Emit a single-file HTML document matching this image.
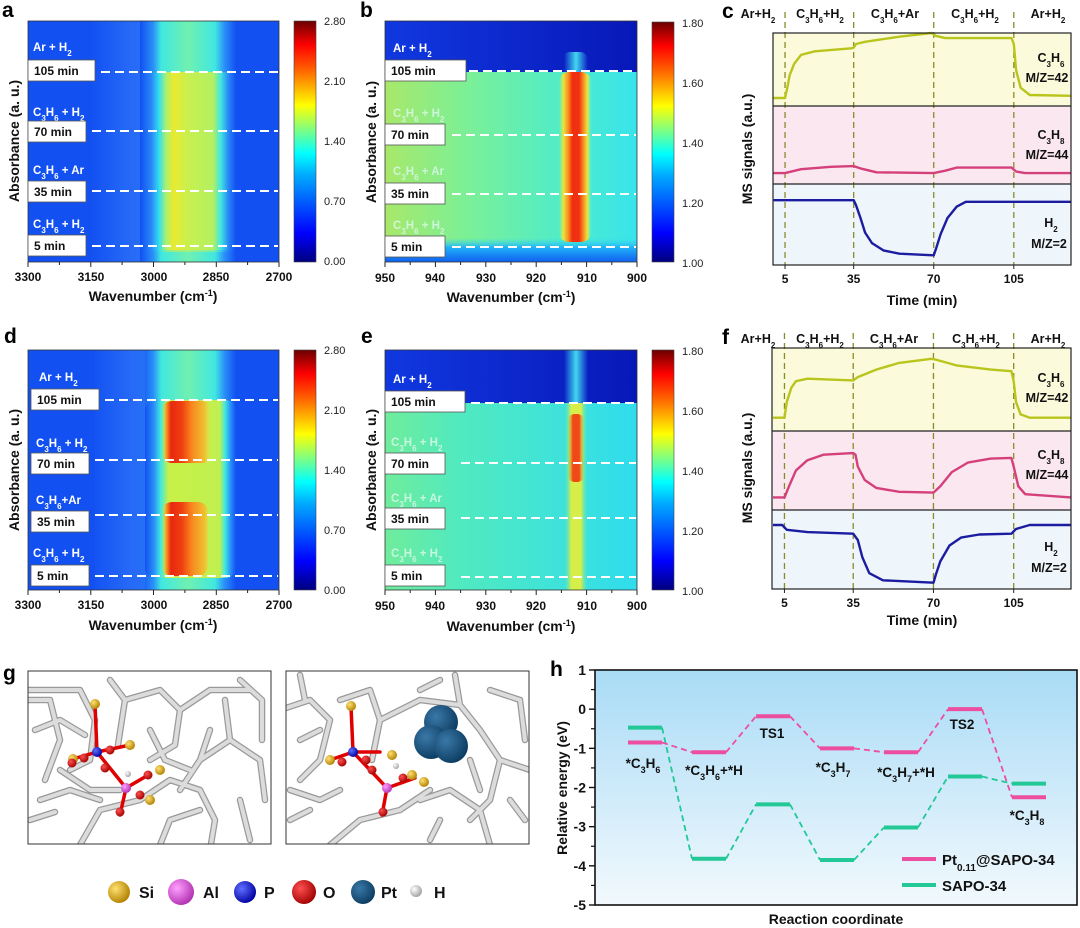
<!DOCTYPE html>
<html><head><meta charset="utf-8"><style>
html,body{margin:0;padding:0;background:#fff;}
svg{display:block;font-family:"Liberation Sans",Arial,sans-serif;}
.tk{font-size:12px;font-weight:bold;fill:#111;}
.ax{font-size:14px;font-weight:bold;fill:#111;}
.pl{font-size:21px;font-weight:bold;fill:#000;}
.hl{font-size:11.5px;font-weight:bold;fill:#fff;}
.hf{font-size:11.5px;font-weight:bold;fill:#d8f8e8;opacity:.85;}
.bx{font-size:12px;font-weight:bold;fill:#111;}
.cl{font-size:11px;fill:#222;}
.ms{font-size:12.5px;font-weight:bold;fill:#111;}
.sp{font-size:12.5px;font-weight:bold;fill:#111;}
</style></head><body>
<svg id="fig" width="1080" height="928" viewBox="0 0 1080 928">
<defs>
<linearGradient id="jet" x1="0" y1="1" x2="0" y2="0">
<stop offset="0" stop-color="#00007f"/><stop offset=".12" stop-color="#0000ff"/><stop offset=".36" stop-color="#00aaff"/><stop offset=".45" stop-color="#00ffff"/><stop offset=".55" stop-color="#80ff80"/><stop offset=".65" stop-color="#ffff00"/><stop offset=".8" stop-color="#ff6000"/><stop offset=".9" stop-color="#ff0000"/><stop offset="1" stop-color="#6a0000"/>
</linearGradient>
<linearGradient id="bmid" x1="0" y1="0" x2="1" y2="0"><stop offset="0" stop-color="#a8e86a"/><stop offset=".35" stop-color="#78f09a"/><stop offset=".7" stop-color="#50ecc8"/><stop offset="1" stop-color="#38e4ec"/></linearGradient>
<linearGradient id="emid" x1="0" y1="0" x2="1" y2="0"><stop offset="0" stop-color="#70ec9c"/><stop offset=".3" stop-color="#50eac0"/><stop offset="1" stop-color="#30dcee"/></linearGradient>
<linearGradient id="btop" x1="0" y1="0" x2="1" y2="0"><stop offset="0" stop-color="#1038e0"/><stop offset="1" stop-color="#0818b8"/></linearGradient>
<linearGradient id="bbot" x1="0" y1="0" x2="0" y2="1"><stop offset="0" stop-color="#38d8f0" stop-opacity="0"/><stop offset=".4" stop-color="#20b0f8"/><stop offset="1" stop-color="#1060f0"/></linearGradient>
<linearGradient id="vfadeTop" x1="0" y1="0" x2="0" y2="1"><stop offset="0" stop-color="#1038e0" stop-opacity="0"/><stop offset="1" stop-color="#1038e0" stop-opacity="0"/></linearGradient>
<!-- panel a band -->
<linearGradient id="aBand" gradientUnits="userSpaceOnUse" x1="140" y1="0" x2="236" y2="0">
<stop offset="0" stop-color="#1250f2"/><stop offset=".12" stop-color="#2a88f8"/><stop offset=".2" stop-color="#30e0f0"/><stop offset=".27" stop-color="#a8f070"/><stop offset=".35" stop-color="#eaea30"/><stop offset=".5" stop-color="#c8f050"/><stop offset=".76" stop-color="#b4f060"/><stop offset=".84" stop-color="#40e8e0"/><stop offset=".92" stop-color="#2a88f8"/><stop offset="1" stop-color="#1250f2"/></linearGradient>
<linearGradient id="aTop" gradientUnits="userSpaceOnUse" x1="140" y1="0" x2="236" y2="0">
<stop offset="0" stop-color="#1250f2"/><stop offset=".14" stop-color="#2a90f8"/><stop offset=".22" stop-color="#40e8e0"/><stop offset=".5" stop-color="#70f0b0"/><stop offset=".78" stop-color="#40e8e0"/><stop offset=".88" stop-color="#2a90f8"/><stop offset="1" stop-color="#1250f2"/></linearGradient>
<linearGradient id="aLight" gradientUnits="userSpaceOnUse" x1="90" y1="0" x2="165" y2="0">
<stop offset="0" stop-color="#1250f2"/><stop offset=".5" stop-color="#2568f6"/><stop offset="1" stop-color="#2a78f8"/></linearGradient>
<!-- panel b band -->
<linearGradient id="bBand" gradientUnits="userSpaceOnUse" x1="558" y1="0" x2="592" y2="0">
<stop offset="0" stop-color="#60f0b0" stop-opacity="0"/><stop offset=".15" stop-color="#e8e840"/><stop offset=".3" stop-color="#f89020"/><stop offset=".42" stop-color="#f03010"/><stop offset=".62" stop-color="#f03010"/><stop offset=".75" stop-color="#f89020"/><stop offset=".87" stop-color="#e8e840"/><stop offset="1" stop-color="#60f0d0" stop-opacity="0"/></linearGradient>
<!-- panel d band -->
<linearGradient id="dBand" gradientUnits="userSpaceOnUse" x1="145" y1="0" x2="236" y2="0">
<stop offset="0" stop-color="#1250f2"/><stop offset=".1" stop-color="#2a90f8"/><stop offset=".17" stop-color="#40e8e0"/><stop offset=".26" stop-color="#c8f048"/><stop offset=".82" stop-color="#c0f050"/><stop offset=".88" stop-color="#40e8e0"/><stop offset=".94" stop-color="#2a90f8"/><stop offset="1" stop-color="#1250f2"/></linearGradient>
<linearGradient id="dRed" gradientUnits="userSpaceOnUse" x1="162" y1="0" x2="212" y2="0">
<stop offset="0" stop-color="#e8e840" stop-opacity="0"/><stop offset=".08" stop-color="#f8a020"/><stop offset=".18" stop-color="#e82810"/><stop offset=".4" stop-color="#f04010"/><stop offset=".6" stop-color="#f88820"/><stop offset=".85" stop-color="#f0c030"/><stop offset="1" stop-color="#e8e840" stop-opacity="0"/></linearGradient>
<!-- panel e band -->
<linearGradient id="eBand" gradientUnits="userSpaceOnUse" x1="564" y1="0" x2="588" y2="0">
<stop offset="0" stop-color="#50e8c0" stop-opacity="0"/><stop offset=".3" stop-color="#d8ee48"/><stop offset=".7" stop-color="#d8ee48"/><stop offset="1" stop-color="#50e8c0" stop-opacity="0"/></linearGradient>
<linearGradient id="eRed" gradientUnits="userSpaceOnUse" x1="568" y1="0" x2="584" y2="0">
<stop offset="0" stop-color="#f8a020" stop-opacity="0"/><stop offset=".3" stop-color="#f04818"/><stop offset=".7" stop-color="#f04818"/><stop offset="1" stop-color="#f8a020" stop-opacity="0"/></linearGradient>
<linearGradient id="eTopBand" gradientUnits="userSpaceOnUse" x1="564" y1="0" x2="588" y2="0">
<stop offset="0" stop-color="#40d0f0" stop-opacity="0"/><stop offset=".5" stop-color="#40d8f0"/><stop offset="1" stop-color="#40d0f0" stop-opacity="0"/></linearGradient>
<linearGradient id="hbg" x1="0" y1="0" x2="0" y2="1"><stop offset="0" stop-color="#a9dbf6"/><stop offset="1" stop-color="#f2f9fd"/></linearGradient>
<radialGradient id="gSi" cx=".35" cy=".35" r=".7"><stop offset="0" stop-color="#ffe070"/><stop offset="1" stop-color="#b08000"/></radialGradient>
<radialGradient id="gAl" cx=".35" cy=".35" r=".7"><stop offset="0" stop-color="#ffa0ff"/><stop offset="1" stop-color="#b030b0"/></radialGradient>
<radialGradient id="gP" cx=".35" cy=".35" r=".7"><stop offset="0" stop-color="#6070ff"/><stop offset="1" stop-color="#0000a0"/></radialGradient>
<radialGradient id="gO" cx=".35" cy=".35" r=".7"><stop offset="0" stop-color="#ff5050"/><stop offset="1" stop-color="#a00000"/></radialGradient>
<radialGradient id="gPt" cx=".35" cy=".35" r=".7"><stop offset="0" stop-color="#3a78a8"/><stop offset="1" stop-color="#0c3c60"/></radialGradient>
<radialGradient id="gH" cx=".35" cy=".35" r=".7"><stop offset="0" stop-color="#ffffff"/><stop offset="1" stop-color="#a0a0a0"/></radialGradient>
<clipPath id="cA"><rect x="28" y="21" width="251" height="241"/></clipPath>
<clipPath id="cB"><rect x="385" y="21" width="252" height="241"/></clipPath>
<clipPath id="cD"><rect x="28" y="350" width="251" height="240"/></clipPath>
<clipPath id="cE"><rect x="385" y="350" width="252" height="240"/></clipPath>
<clipPath id="cG1"><rect x="28" y="671" width="243" height="173"/></clipPath>
<clipPath id="cG2"><rect x="286" y="671" width="243" height="173"/></clipPath>
</defs>

<!-- ===== Panel a ===== -->
<g>
<text class="pl" x="2" y="17">a</text>
<g clip-path="url(#cA)">
<rect x="28" y="21" width="251" height="241" fill="#1250f2"/>
<rect x="90" y="21" width="60" height="241" fill="url(#aLight)"/>
<rect x="140" y="21" width="96" height="241" fill="url(#aTop)"/>
<rect x="140" y="72" width="96" height="180" rx="10" fill="url(#aBand)"/>
<rect x="140" y="250" width="96" height="12" fill="url(#aTop)" opacity=".5"/>
</g>
<rect x="28" y="21" width="251" height="241" fill="none" stroke="#333" stroke-width="0.8"/>
<g stroke="#fff" stroke-width="2" stroke-dasharray="9,5">
<line x1="101" y1="72" x2="278" y2="72"/><line x1="92" y1="131" x2="278" y2="131"/><line x1="92" y1="191" x2="278" y2="191"/><line x1="92" y1="246" x2="278" y2="246"/>
</g>
<text class="hl" x="33" y="51">Ar + H<tspan font-size="8" baseline-shift="sub">2</tspan></text>
<text class="hl" x="33" y="116">C<tspan font-size="8" baseline-shift="sub">3</tspan>H<tspan font-size="8" baseline-shift="sub">6</tspan> + H<tspan font-size="8" baseline-shift="sub">2</tspan></text>
<text class="hl" x="33" y="174">C<tspan font-size="8" baseline-shift="sub">3</tspan>H<tspan font-size="8" baseline-shift="sub">6</tspan> + Ar</text>
<text class="hl" x="33" y="228">C<tspan font-size="8" baseline-shift="sub">3</tspan>H<tspan font-size="8" baseline-shift="sub">6</tspan> + H<tspan font-size="8" baseline-shift="sub">2</tspan></text>
<g fill="#fff" stroke="#555" stroke-width="0.8">
<rect x="28" y="60" width="67" height="21"/><rect x="28" y="121" width="58" height="21"/><rect x="28" y="181" width="58" height="21"/><rect x="28" y="235" width="58" height="21"/>
</g>
<text class="bx" x="34" y="75">105 min</text>
<text class="bx" x="34" y="136">70 min</text>
<text class="bx" x="34" y="196">35 min</text>
<text class="bx" x="34" y="250">5 min</text>
<rect x="294" y="21" width="22" height="241" fill="url(#jet)" stroke="#444" stroke-width="0.6"/>
<g class="cl">
<text x="324" y="25">2.80</text><text x="324" y="85">2.10</text><text x="324" y="145">1.40</text><text x="324" y="205">0.70</text><text x="324" y="265">0.00</text></g>
<g stroke="#222" stroke-width="1">
<line x1="28" y1="262" x2="28" y2="267"/><line x1="59.4" y1="262" x2="59.4" y2="265"/><line x1="90.8" y1="262" x2="90.8" y2="267"/><line x1="122.1" y1="262" x2="122.1" y2="265"/><line x1="153.5" y1="262" x2="153.5" y2="267"/><line x1="184.9" y1="262" x2="184.9" y2="265"/><line x1="216.3" y1="262" x2="216.3" y2="267"/><line x1="247.6" y1="262" x2="247.6" y2="265"/><line x1="279" y1="262" x2="279" y2="267"/>
</g>
<g class="tk" text-anchor="middle"><text x="28" y="281">3300</text><text x="91" y="281">3150</text><text x="154" y="281">3000</text><text x="216" y="281">2850</text><text x="279" y="281">2700</text></g>
<text class="ax" x="153" y="301" text-anchor="middle">Wavenumber (cm<tspan font-size="9" baseline-shift="super">-1</tspan>)</text>
<text class="ax" transform="translate(19,141) rotate(-90)" text-anchor="middle">Absorbance (a. u.)</text>
</g>

<!-- ===== Panel b ===== -->
<g>
<text class="pl" x="360" y="17">b</text>
<g clip-path="url(#cB)">
<rect x="385" y="21" width="252" height="241" fill="url(#btop)"/>
<rect x="385" y="72" width="252" height="176" fill="url(#bmid)"/>
<rect x="385" y="238" width="252" height="24" fill="url(#bbot)"/>
<rect x="562" y="52" width="26" height="24" rx="8" fill="url(#eTopBand)"/>
<rect x="558" y="72" width="34" height="170" rx="11" fill="url(#bBand)"/>
</g>
<rect x="385" y="21" width="252" height="241" fill="none" stroke="#333" stroke-width="0.8"/>
<g stroke="#fff" stroke-width="2" stroke-dasharray="9,5">
<line x1="469" y1="71" x2="636" y2="71"/><line x1="452" y1="135" x2="636" y2="135"/><line x1="452" y1="194" x2="636" y2="194"/><line x1="452" y1="247" x2="636" y2="247"/>
</g>
<text class="hl" x="393" y="52">Ar + H<tspan font-size="8" baseline-shift="sub">2</tspan></text>
<text class="hf" x="393" y="117">C<tspan font-size="8" baseline-shift="sub">3</tspan>H<tspan font-size="8" baseline-shift="sub">6</tspan> + H<tspan font-size="8" baseline-shift="sub">2</tspan></text>
<text class="hf" x="393" y="175">C<tspan font-size="8" baseline-shift="sub">3</tspan>H<tspan font-size="8" baseline-shift="sub">6</tspan> + Ar</text>
<text class="hf" x="393" y="229">C<tspan font-size="8" baseline-shift="sub">3</tspan>H<tspan font-size="8" baseline-shift="sub">6</tspan> + H<tspan font-size="8" baseline-shift="sub">2</tspan></text>
<g fill="#fff" stroke="#555" stroke-width="0.8">
<rect x="385" y="60" width="81" height="21"/><rect x="385" y="124" width="60" height="21"/><rect x="385" y="183" width="60" height="21"/><rect x="385" y="236" width="60" height="21"/>
</g>
<text class="bx" x="391" y="75">105 min</text><text class="bx" x="391" y="139">70 min</text><text class="bx" x="391" y="198">35 min</text><text class="bx" x="391" y="251">5 min</text>
<rect x="652" y="22" width="22" height="240" fill="url(#jet)" stroke="#444" stroke-width="0.6"/>
<g class="cl"><text x="682" y="27">1.80</text><text x="682" y="87">1.60</text><text x="682" y="147">1.40</text><text x="682" y="207">1.20</text><text x="682" y="267">1.00</text></g>
<g stroke="#222" stroke-width="1">
<line x1="385" y1="262" x2="385" y2="267"/><line x1="410.2" y1="262" x2="410.2" y2="265"/><line x1="435.4" y1="262" x2="435.4" y2="267"/><line x1="460.6" y1="262" x2="460.6" y2="265"/><line x1="485.8" y1="262" x2="485.8" y2="267"/><line x1="511" y1="262" x2="511" y2="265"/><line x1="536.2" y1="262" x2="536.2" y2="267"/><line x1="561.4" y1="262" x2="561.4" y2="265"/><line x1="586.6" y1="262" x2="586.6" y2="267"/><line x1="611.8" y1="262" x2="611.8" y2="265"/><line x1="637" y1="262" x2="637" y2="267"/>
</g>
<g class="tk" text-anchor="middle"><text x="385" y="282">950</text><text x="435" y="282">940</text><text x="486" y="282">930</text><text x="536" y="282">920</text><text x="587" y="282">910</text><text x="637" y="282">900</text></g>
<text class="ax" x="511" y="302" text-anchor="middle">Wavenumber (cm<tspan font-size="9" baseline-shift="super">-1</tspan>)</text>
<text class="ax" transform="translate(376,142) rotate(-90)" text-anchor="middle">Absorbance (a. u.)</text>
</g>

<!-- ===== Panel d ===== -->
<g>
<text class="pl" x="4" y="343">d</text>
<g clip-path="url(#cD)">
<rect x="28" y="350" width="251" height="240" fill="#1250f2"/>
<rect x="95" y="350" width="62" height="240" fill="url(#aLight)"/>
<rect x="145" y="350" width="91" height="240" fill="url(#aTop)"/>
<rect x="145" y="400" width="91" height="178" rx="10" fill="url(#dBand)"/>
<rect x="162" y="401" width="50" height="62" rx="10" fill="url(#dRed)"/>
<rect x="162" y="502" width="46" height="74" rx="10" fill="url(#dRed)"/>
</g>
<rect x="28" y="350" width="251" height="240" fill="none" stroke="#333" stroke-width="0.8"/>
<g stroke="#fff" stroke-width="2" stroke-dasharray="9,5">
<line x1="105" y1="400" x2="278" y2="400"/><line x1="95" y1="460" x2="278" y2="460"/><line x1="95" y1="515" x2="278" y2="515"/><line x1="95" y1="576" x2="278" y2="576"/>
</g>
<text class="hl" x="39" y="381">Ar + H<tspan font-size="8" baseline-shift="sub">2</tspan></text>
<text class="hl" x="36" y="447">C<tspan font-size="8" baseline-shift="sub">3</tspan>H<tspan font-size="8" baseline-shift="sub">6</tspan> + H<tspan font-size="8" baseline-shift="sub">2</tspan></text>
<text class="hl" x="36" y="504">C<tspan font-size="8" baseline-shift="sub">3</tspan>H<tspan font-size="8" baseline-shift="sub">6</tspan>+Ar</text>
<text class="hl" x="33" y="557">C<tspan font-size="8" baseline-shift="sub">3</tspan>H<tspan font-size="8" baseline-shift="sub">6</tspan> + H<tspan font-size="8" baseline-shift="sub">2</tspan></text>
<g fill="#fff" stroke="#555" stroke-width="0.8">
<rect x="31" y="389" width="68" height="21"/><rect x="31" y="453" width="58" height="21"/><rect x="31" y="511" width="58" height="21"/><rect x="31" y="565" width="58" height="21"/>
</g>
<text class="bx" x="37" y="404">105 min</text><text class="bx" x="37" y="468">70 min</text><text class="bx" x="37" y="526">35 min</text><text class="bx" x="37" y="580">5 min</text>
<rect x="294" y="350" width="22" height="240" fill="url(#jet)" stroke="#444" stroke-width="0.6"/>
<g class="cl"><text x="324" y="354">2.80</text><text x="324" y="414">2.10</text><text x="324" y="474">1.40</text><text x="324" y="534">0.70</text><text x="324" y="594">0.00</text></g>
<g stroke="#222" stroke-width="1">
<line x1="28" y1="590" x2="28" y2="595"/><line x1="59.4" y1="590" x2="59.4" y2="593"/><line x1="90.8" y1="590" x2="90.8" y2="595"/><line x1="122.1" y1="590" x2="122.1" y2="593"/><line x1="153.5" y1="590" x2="153.5" y2="595"/><line x1="184.9" y1="590" x2="184.9" y2="593"/><line x1="216.3" y1="590" x2="216.3" y2="595"/><line x1="247.6" y1="590" x2="247.6" y2="593"/><line x1="279" y1="590" x2="279" y2="595"/>
</g>
<g class="tk" text-anchor="middle"><text x="28" y="609">3300</text><text x="91" y="609">3150</text><text x="154" y="609">3000</text><text x="216" y="609">2850</text><text x="279" y="609">2700</text></g>
<text class="ax" x="153" y="630" text-anchor="middle">Wavenumber (cm<tspan font-size="9" baseline-shift="super">-1</tspan>)</text>
<text class="ax" transform="translate(19,470) rotate(-90)" text-anchor="middle">Absorbance (a. u.)</text>
</g>

<!-- ===== Panel e ===== -->
<g>
<text class="pl" x="361" y="343">e</text>
<g clip-path="url(#cE)">
<rect x="385" y="350" width="252" height="240" fill="url(#btop)"/>
<rect x="385" y="403" width="252" height="187" fill="url(#emid)"/>
<rect x="564" y="350" width="24" height="60" fill="url(#eTopBand)"/>
<rect x="564" y="403" width="24" height="187" fill="url(#eBand)"/>
<rect x="568" y="414" width="16" height="68" rx="7" fill="url(#eRed)"/>
</g>
<rect x="385" y="350" width="252" height="240" fill="none" stroke="#333" stroke-width="0.8"/>
<g stroke="#fff" stroke-width="2" stroke-dasharray="9,5">
<line x1="471" y1="403" x2="636" y2="403"/><line x1="461" y1="463" x2="636" y2="463"/><line x1="461" y1="518" x2="636" y2="518"/><line x1="461" y1="577" x2="636" y2="577"/>
</g>
<text class="hl" x="393" y="383">Ar + H<tspan font-size="8" baseline-shift="sub">2</tspan></text>
<text class="hf" x="391" y="446">C<tspan font-size="8" baseline-shift="sub">3</tspan>H<tspan font-size="8" baseline-shift="sub">6</tspan> + H<tspan font-size="8" baseline-shift="sub">2</tspan></text>
<text class="hf" x="391" y="502">C<tspan font-size="8" baseline-shift="sub">3</tspan>H<tspan font-size="8" baseline-shift="sub">6</tspan> + Ar</text>
<text class="hf" x="391" y="557">C<tspan font-size="8" baseline-shift="sub">3</tspan>H<tspan font-size="8" baseline-shift="sub">6</tspan> + H<tspan font-size="8" baseline-shift="sub">2</tspan></text>
<g fill="#fff" stroke="#555" stroke-width="0.8">
<rect x="385" y="391" width="80" height="21"/><rect x="385" y="453" width="60" height="21"/><rect x="385" y="508" width="60" height="21"/><rect x="385" y="565" width="60" height="21"/>
</g>
<text class="bx" x="391" y="406">105 min</text><text class="bx" x="391" y="468">70 min</text><text class="bx" x="391" y="523">35 min</text><text class="bx" x="391" y="580">5 min</text>
<rect x="652" y="350" width="22" height="240" fill="url(#jet)" stroke="#444" stroke-width="0.6"/>
<g class="cl"><text x="682" y="355">1.80</text><text x="682" y="415">1.60</text><text x="682" y="475">1.40</text><text x="682" y="535">1.20</text><text x="682" y="595">1.00</text></g>
<g stroke="#222" stroke-width="1">
<line x1="385" y1="590" x2="385" y2="595"/><line x1="410.2" y1="590" x2="410.2" y2="593"/><line x1="435.4" y1="590" x2="435.4" y2="595"/><line x1="460.6" y1="590" x2="460.6" y2="593"/><line x1="485.8" y1="590" x2="485.8" y2="595"/><line x1="511" y1="590" x2="511" y2="593"/><line x1="536.2" y1="590" x2="536.2" y2="595"/><line x1="561.4" y1="590" x2="561.4" y2="593"/><line x1="586.6" y1="590" x2="586.6" y2="595"/><line x1="611.8" y1="590" x2="611.8" y2="593"/><line x1="637" y1="590" x2="637" y2="595"/>
</g>
<g class="tk" text-anchor="middle"><text x="385" y="610">950</text><text x="435" y="610">940</text><text x="486" y="610">930</text><text x="536" y="610">920</text><text x="587" y="610">910</text><text x="637" y="610">900</text></g>
<text class="ax" x="511" y="631" text-anchor="middle">Wavenumber (cm<tspan font-size="9" baseline-shift="super">-1</tspan>)</text>
<text class="ax" transform="translate(376,470) rotate(-90)" text-anchor="middle">Absorbance (a. u.)</text>
</g>

<!-- ===== Panel c ===== -->
<g>
<text class="pl" x="722" y="18">c</text>
<rect x="773" y="33" width="298" height="73" fill="#fbfbdc"/>
<rect x="773" y="106" width="298" height="78" fill="#fbe7ef"/>
<rect x="773" y="184" width="298" height="81" fill="#eef5fb"/>
<g class="sp" text-anchor="middle">
<text x="758" y="18">Ar+H<tspan font-size="8" baseline-shift="sub">2</tspan></text>
<text x="820" y="18">C<tspan font-size="8" baseline-shift="sub">3</tspan>H<tspan font-size="8" baseline-shift="sub">6</tspan>+H<tspan font-size="8" baseline-shift="sub">2</tspan></text>
<text x="895" y="18">C<tspan font-size="8" baseline-shift="sub">3</tspan>H<tspan font-size="8" baseline-shift="sub">6</tspan>+Ar</text>
<text x="975" y="18">C<tspan font-size="8" baseline-shift="sub">3</tspan>H<tspan font-size="8" baseline-shift="sub">6</tspan>+H<tspan font-size="8" baseline-shift="sub">2</tspan></text>
<text x="1048" y="18">Ar+H<tspan font-size="8" baseline-shift="sub">2</tspan></text>
</g>
<g id="cVlines" stroke="#8a8a2a" stroke-width="1.3" stroke-dasharray="6,4"></g>
<g id="cLines" fill="none" stroke-width="2.4" stroke-linejoin="round"></g>
<g fill="none" stroke="#222" stroke-width="1.2"><rect x="773" y="33" width="298" height="232"/><line x1="773" y1="106" x2="1071" y2="106"/><line x1="773" y1="184" x2="1071" y2="184"/></g>
<g class="ms" text-anchor="middle">
<text x="1051" y="62">C<tspan font-size="8" baseline-shift="sub">3</tspan>H<tspan font-size="8" baseline-shift="sub">6</tspan></text><text x="1047" y="82">M/Z=42</text>
<text x="1051" y="139">C<tspan font-size="8" baseline-shift="sub">3</tspan>H<tspan font-size="8" baseline-shift="sub">8</tspan></text><text x="1047" y="159">M/Z=44</text>
<text x="1051" y="227">H<tspan font-size="8" baseline-shift="sub">2</tspan></text><text x="1049" y="248">M/Z=2</text>
</g>
<g id="cTicks" class="tk" text-anchor="middle"></g>
<text class="ax" x="922" y="305" text-anchor="middle">Time (min)</text>
<text class="ax" transform="translate(752,149) rotate(-90)" text-anchor="middle">MS signals (a.u.)</text>
</g>

<!-- ===== Panel f ===== -->
<g>
<text class="pl" x="722" y="344">f</text>
<rect x="772" y="348" width="299" height="83" fill="#fbfbdc"/>
<rect x="772" y="431" width="299" height="79" fill="#fbe7ef"/>
<rect x="772" y="510" width="299" height="79" fill="#eef5fb"/>
<g class="sp" text-anchor="middle">
<text x="758" y="343">Ar+H<tspan font-size="8" baseline-shift="sub">2</tspan></text>
<text x="820" y="343">C<tspan font-size="8" baseline-shift="sub">3</tspan>H<tspan font-size="8" baseline-shift="sub">6</tspan>+H<tspan font-size="8" baseline-shift="sub">2</tspan></text>
<text x="894" y="343">C<tspan font-size="8" baseline-shift="sub">3</tspan>H<tspan font-size="8" baseline-shift="sub">6</tspan>+Ar</text>
<text x="976" y="343">C<tspan font-size="8" baseline-shift="sub">3</tspan>H<tspan font-size="8" baseline-shift="sub">6</tspan>+H<tspan font-size="8" baseline-shift="sub">2</tspan></text>
<text x="1048" y="343">Ar+H<tspan font-size="8" baseline-shift="sub">2</tspan></text>
</g>
<g id="fVlines" stroke="#8a8a2a" stroke-width="1.3" stroke-dasharray="6,4"></g>
<g id="fLines" fill="none" stroke-width="2.4" stroke-linejoin="round"></g>
<g fill="none" stroke="#222" stroke-width="1.2"><rect x="772" y="348" width="299" height="241"/><line x1="772" y1="431" x2="1071" y2="431"/><line x1="772" y1="510" x2="1071" y2="510"/></g>
<g class="ms" text-anchor="middle">
<text x="1051" y="382">C<tspan font-size="8" baseline-shift="sub">3</tspan>H<tspan font-size="8" baseline-shift="sub">6</tspan></text><text x="1047" y="402">M/Z=42</text>
<text x="1051" y="459">C<tspan font-size="8" baseline-shift="sub">3</tspan>H<tspan font-size="8" baseline-shift="sub">8</tspan></text><text x="1047" y="479">M/Z=44</text>
<text x="1051" y="551">H<tspan font-size="8" baseline-shift="sub">2</tspan></text><text x="1049" y="572">M/Z=2</text>
</g>
<g id="fTicks" class="tk" text-anchor="middle"></g>
<text class="ax" x="922" y="625" text-anchor="middle">Time (min)</text>
<text class="ax" transform="translate(752,468) rotate(-90)" text-anchor="middle">MS signals (a.u.)</text>
</g>

<!-- ===== Panel g ===== -->
<g>
<text class="pl" x="3" y="680">g</text>
<g clip-path="url(#cG1)">
<rect x="28" y="671" width="243" height="173" fill="#fff"/>
<g fill="none" stroke="#9a9a9a" stroke-width="6.5" stroke-linejoin="round" stroke-linecap="round">
<path d="M20,700 L50,700 L60,740 L45,780 M28,690 L80,690 L95,720 L90,760 L70,770 M110,680 L125,700 L118,745 M125,700 L160,690 L180,710 L175,745 L150,760 M180,710 L210,690 L250,690 M200,760 L230,740 L260,760 L265,800 M230,740 L225,700 M240,680 L262,700 L262,740 M80,845 L100,810 L140,800 M140,800 L170,780 L200,790 L215,820 L210,850 M160,845 L170,820 L200,810 M60,770 L90,790 L120,790 M240,800 L250,840 M30,820 L55,812 M35,730 L60,720 L85,735 M150,730 L165,760 L190,770 M210,730 L200,760 L180,790 M40,800 L70,790 L100,800"/>
</g>
<g fill="none" stroke="#dcdcdc" stroke-width="4" stroke-linejoin="round" stroke-linecap="round">
<path d="M20,700 L50,700 L60,740 L45,780 M28,690 L80,690 L95,720 L90,760 L70,770 M110,680 L125,700 L118,745 M125,700 L160,690 L180,710 L175,745 L150,760 M180,710 L210,690 L250,690 M200,760 L230,740 L260,760 L265,800 M230,740 L225,700 M240,680 L262,700 L262,740 M80,845 L100,810 L140,800 M140,800 L170,780 L200,790 L215,820 L210,850 M160,845 L170,820 L200,810 M60,770 L90,790 L120,790 M240,800 L250,840 M30,820 L55,812 M35,730 L60,720 L85,735 M150,730 L165,760 L190,770 M210,730 L200,760 L180,790 M40,800 L70,790 L100,800"/>
</g>
<g stroke-width="3.5" stroke-linecap="round" stroke="#e00000">
<line x1="95" y1="704" x2="97" y2="752"/><line x1="73" y1="759" x2="97" y2="752"/><line x1="97" y1="752" x2="130" y2="745"/><line x1="97" y1="752" x2="126" y2="788"/><line x1="126" y1="788" x2="150" y2="774"/><line x1="126" y1="788" x2="120" y2="815"/>
</g>
<circle cx="95" cy="704" r="5" fill="url(#gSi)"/><circle cx="73" cy="759" r="5" fill="url(#gSi)"/><circle cx="130" cy="745" r="5" fill="url(#gSi)"/><circle cx="160" cy="770" r="5" fill="url(#gSi)"/><circle cx="150" cy="800" r="5" fill="url(#gSi)"/>
<circle cx="97" cy="752" r="5" fill="url(#gP)"/><circle cx="126" cy="788" r="5" fill="url(#gAl)"/><circle cx="128" cy="774" r="3" fill="url(#gH)"/>
<circle cx="72" cy="763" r="4.5" fill="url(#gO)"/><circle cx="84" cy="758" r="4.5" fill="url(#gO)"/><circle cx="110" cy="750" r="4.5" fill="url(#gO)"/><circle cx="105" cy="768" r="4.5" fill="url(#gO)"/><circle cx="148" cy="775" r="4.5" fill="url(#gO)"/><circle cx="120" cy="812" r="4.5" fill="url(#gO)"/><circle cx="140" cy="795" r="4.5" fill="url(#gO)"/>
</g>
<rect x="28" y="671" width="243" height="173" fill="none" stroke="#333" stroke-width="1"/>
<g clip-path="url(#cG2)">
<rect x="286" y="671" width="243" height="173" fill="#fff"/>
<g fill="none" stroke="#9a9a9a" stroke-width="6.5" stroke-linejoin="round" stroke-linecap="round">
<path d="M280,710 L310,700 L330,720 L320,760 L300,780 M300,675 L305,700 M340,700 L370,690 L380,720 L372,760 M380,720 L420,700 L460,705 L480,730 M460,705 L455,675 M490,690 L520,700 L525,740 M480,730 L500,760 L490,800 L470,820 M420,800 L450,790 L480,810 L490,845 M330,845 L360,820 L400,810 M400,810 L430,790 M290,820 L310,810 M500,760 L530,770 M430,840 L440,820 M300,740 L320,730 M420,690 L440,680 M470,760 L480,790 M510,800 L525,820 M290,790 L320,800 L340,790"/>
</g>
<g fill="none" stroke="#dcdcdc" stroke-width="4" stroke-linejoin="round" stroke-linecap="round">
<path d="M280,710 L310,700 L330,720 L320,760 L300,780 M300,675 L305,700 M340,700 L370,690 L380,720 L372,760 M380,720 L420,700 L460,705 L480,730 M460,705 L455,675 M490,690 L520,700 L525,740 M480,730 L500,760 L490,800 L470,820 M420,800 L450,790 L480,810 L490,845 M330,845 L360,820 L400,810 M400,810 L430,790 M290,820 L310,810 M500,760 L530,770 M430,840 L440,820 M300,740 L320,730 M420,690 L440,680 M470,760 L480,790 M510,800 L525,820 M290,790 L320,800 L340,790"/>
</g>
<g stroke="#e00000" stroke-width="3.5" stroke-linecap="round">
<line x1="351" y1="706" x2="353" y2="752"/><line x1="330" y1="760" x2="353" y2="752"/><line x1="353" y1="752" x2="380" y2="752"/><line x1="353" y1="752" x2="387" y2="788"/><line x1="387" y1="788" x2="415" y2="778"/><line x1="387" y1="788" x2="382" y2="815"/>
</g>
<circle cx="351" cy="706" r="5" fill="url(#gSi)"/><circle cx="330" cy="760" r="5" fill="url(#gSi)"/><circle cx="392" cy="755" r="5" fill="url(#gSi)"/><circle cx="424" cy="782" r="5" fill="url(#gSi)"/><circle cx="412" cy="775" r="5" fill="url(#gSi)"/>
<circle cx="353" cy="752" r="5" fill="url(#gP)"/><circle cx="387" cy="788" r="5" fill="url(#gAl)"/><circle cx="396" cy="766" r="3" fill="url(#gH)"/>
<circle cx="342" cy="762" r="4.5" fill="url(#gO)"/><circle cx="366" cy="760" r="4.5" fill="url(#gO)"/><circle cx="372" cy="770" r="4.5" fill="url(#gO)"/><circle cx="403" cy="778" r="4.5" fill="url(#gO)"/><circle cx="383" cy="812" r="4.5" fill="url(#gO)"/>
<circle cx="441" cy="722" r="17" fill="url(#gPt)"/><circle cx="431" cy="742" r="17" fill="url(#gPt)"/><circle cx="451" cy="746" r="17" fill="url(#gPt)"/>
</g>
<rect x="286" y="671" width="243" height="173" fill="none" stroke="#333" stroke-width="1"/>
<g font-size="16" font-weight="bold" fill="#111">
<circle cx="119" cy="892" r="11" fill="url(#gSi)"/><text x="139" y="898" fill="#111">Si</text>
<circle cx="181" cy="892" r="13" fill="url(#gAl)"/><text x="203" y="898" fill="#111">Al</text>
<circle cx="245" cy="892" r="11" fill="url(#gP)"/><text x="264" y="898" fill="#111">P</text>
<circle cx="304" cy="892" r="12" fill="url(#gO)"/><text x="323" y="898" fill="#111">O</text>
<circle cx="363" cy="892" r="12" fill="url(#gPt)"/><text x="381" y="898" fill="#111">Pt</text>
<circle cx="416" cy="891" r="6" fill="url(#gH)"/><text x="434" y="898" fill="#111">H</text>
</g>
</g>

<!-- ===== Panel h ===== -->
<g>
<text class="pl" x="550" y="676">h</text>
<rect x="595" y="670" width="482" height="235" fill="url(#hbg)"/>
<g id="hTicks"></g>
<g id="hMarks"></g>
<rect x="595" y="670" width="482" height="235" fill="none" stroke="#111" stroke-width="1.6"/>
<g font-size="13.5" font-weight="bold" fill="#111" text-anchor="middle">
<text x="643" y="768">*C<tspan font-size="9" baseline-shift="sub">3</tspan>H<tspan font-size="9" baseline-shift="sub">6</tspan></text>
<text x="714" y="775">*C<tspan font-size="9" baseline-shift="sub">3</tspan>H<tspan font-size="9" baseline-shift="sub">6</tspan>+*H</text>
<text x="772" y="738">TS1</text>
<text x="833" y="772">*C<tspan font-size="9" baseline-shift="sub">3</tspan>H<tspan font-size="9" baseline-shift="sub">7</tspan></text>
<text x="906" y="777">*C<tspan font-size="9" baseline-shift="sub">3</tspan>H<tspan font-size="9" baseline-shift="sub">7</tspan>+*H</text>
<text x="962" y="729">TS2</text>
<text x="1027" y="820">*C<tspan font-size="9" baseline-shift="sub">3</tspan>H<tspan font-size="9" baseline-shift="sub">8</tspan></text>
</g>
<g>
<line x1="902" y1="859" x2="936" y2="859" stroke="#ec4ea0" stroke-width="4"/>
<text x="942" y="865" font-size="15" font-weight="bold" fill="#111">Pt<tspan font-size="10" baseline-shift="sub">0.11</tspan>@SAPO-34</text>
<line x1="902" y1="885" x2="936" y2="885" stroke="#22c896" stroke-width="4"/>
<text x="942" y="891" font-size="15" font-weight="bold" fill="#111">SAPO-34</text>
</g>
<text class="ax" x="836" y="924" text-anchor="middle" font-size="15">Reaction coordinate</text>
<text class="ax" transform="translate(567,788) rotate(-90)" text-anchor="middle" font-size="15">Relative energy (eV)</text>
</g>
</svg>
<script>
// ---- MS data (panels c, f): times in minutes, values normalized within each sub-panel ----
const phaseTimes = [5, 35, 70, 105];
const cC3H6T = [0,5,6,7,9,12,18,34,35,36,40,55,69,71,75,104,105,106,108,112,130];
const cC3H6V = [0.11,0.11,0.25,0.42,0.58,0.70,0.75,0.79,0.80,0.85,0.88,0.95,1.0,0.96,0.93,0.93,0.85,0.49,0.25,0.15,0.14];
const cC3H8T = [0,5,12,25,35,38,45,70,75,80,104,106,110,130];
const cC3H8V = [0.14,0.14,0.19,0.22,0.23,0.20,0.15,0.14,0.17,0.21,0.21,0.16,0.14,0.14];
const cH2T = [0,35,36,38,40,43,48,55,70,71,73,76,80,84,130];
const cH2V = [0.80,0.80,0.74,0.58,0.40,0.27,0.18,0.14,0.12,0.20,0.38,0.58,0.72,0.78,0.78];
const fC3H6T = [0,5,6,8,10,15,35,37,45,55,69,71,80,95,104,105,106,108,112,130];
const fC3H6V = [0.16,0.16,0.35,0.52,0.60,0.63,0.61,0.65,0.74,0.82,0.87,0.86,0.79,0.74,0.72,0.60,0.35,0.20,0.16,0.16];
const fC3H8T = [0,5,7,10,15,22,35,36,37,40,45,55,70,73,78,85,95,104,105,107,110,130];
const fC3H8V = [0.16,0.16,0.30,0.50,0.63,0.70,0.72,0.70,0.55,0.38,0.28,0.23,0.22,0.30,0.48,0.60,0.65,0.66,0.55,0.30,0.20,0.16];
const fH2T = [0,4,6,15,35,37,39,42,48,70,71,73,77,82,90,104,106,112,130];
const fH2V = [0.81,0.81,0.75,0.72,0.70,0.62,0.40,0.20,0.11,0.08,0.18,0.35,0.55,0.65,0.69,0.70,0.76,0.81,0.81];

// ---- Energy profile data (panel h) ----
const steps = ['*C3H6','*C3H6+*H','TS1','*C3H7','*C3H7+*H','TS2','*C3H8'];
const ptEnergy = [-0.85,-1.1,-0.18,-1.0,-1.1,0.0,-2.25];
const sapoEnergy = [-0.47,-3.82,-2.43,-3.85,-3.02,-1.72,-1.9];
const yTicks = [1,0,-1,-2,-3,-4,-5];

const NS='http://www.w3.org/2000/svg';
function mk(tag, attrs, parent){const e=document.createElementNS(NS,tag);for(const k in attrs)e.setAttribute(k,attrs[k]);parent.appendChild(e);return e;}

function msPanel(x0, x1, boxes, series, vId, lId, tId, vTop, vBot, tickY){
  const xT = t => x0 + (t/130)*(x1-x0);
  const vg=document.getElementById(vId), lg=document.getElementById(lId), tg=document.getElementById(tId);
  phaseTimes.forEach(t=>{
    const l=mk('line',{x1:xT(t),x2:xT(t),y1:vTop,y2:vBot},vg);
    
    
    mk('line',{x1:xT(t),x2:xT(t),y1:vBot,y2:vBot+4,stroke:'#222','stroke-width':1},tg);
    const tx=mk('text',{x:xT(t),y:tickY},tg); tx.textContent=String(t);
    
    
  });
  series.forEach((s,i)=>{
    const b=boxes[i];
    const yV = v => b[1] - v*(b[1]-b[0]);
    const d=s.t.map((t,j)=>(j?'L':'M')+xT(t).toFixed(1)+','+yV(s.v[j]).toFixed(1)).join(' ');
    const p=mk('path',{d:d,stroke:s.c},lg);
    
    
  });
}
msPanel(773.6,1071,[[33,106],[106,184],[184,265]],[
  {t:cC3H6T,v:cC3H6V,c:'#b9c41c',n:'c3h6-line'},
  {t:cC3H8T,v:cC3H8V,c:'#d4407c',n:'c3h8-line'},
  {t:cH2T,v:cH2V,c:'#1c1ca0',n:'h2-line'}],'cVlines','cLines','cTicks',12,265,283);
msPanel(773.0,1071,[[348,431],[431,510],[510,589]],[
  {t:fC3H6T,v:fC3H6V,c:'#b9c41c',n:'c3h6-line'},
  {t:fC3H8T,v:fC3H8V,c:'#d4407c',n:'c3h8-line'},
  {t:fH2T,v:fH2V,c:'#1c1ca0',n:'h2-line'}],'fVlines','fLines','fTicks',333,589,607);

// energy diagram
(function(){
  const yE = e => 670 + (1-e)*(235/6);
  const xC = i => 645 + i*64;
  const hw = 17;
  const tg=document.getElementById('hTicks'), mg=document.getElementById('hMarks');
  yTicks.forEach(v=>{
    mk('line',{x1:589,x2:595,y1:yE(v),y2:yE(v),stroke:'#111','stroke-width':1.4},tg);
    if(v>-5) mk('line',{x1:591,x2:595,y1:yE(v-0.5),y2:yE(v-0.5),stroke:'#111','stroke-width':1.2},tg);
    const t=mk('text',{x:586,y:yE(v)+5,'text-anchor':'end','font-size':14,'font-weight':'bold',fill:'#111'},tg);
    t.textContent=String(v);
    
    
  });
  [[sapoEnergy,'#22c896','sapo34'],[ptEnergy,'#ec4ea0','pt-sapo34']].forEach(([arr,col,nm])=>{
    for(let i=0;i<arr.length-1;i++){
      const c=mk('line',{x1:xC(i)+hw,y1:yE(arr[i]),x2:xC(i+1)-hw,y2:yE(arr[i+1]),stroke:col,'stroke-width':1.8,'stroke-dasharray':'6,4'},mg);
      
      
    }
    arr.forEach((e,i)=>{
      const l=mk('line',{x1:xC(i)-hw,x2:xC(i)+hw,y1:yE(e),y2:yE(e),stroke:col,'stroke-width':4},mg);
      
      
    });
  });
})();
</script>
</body></html>
